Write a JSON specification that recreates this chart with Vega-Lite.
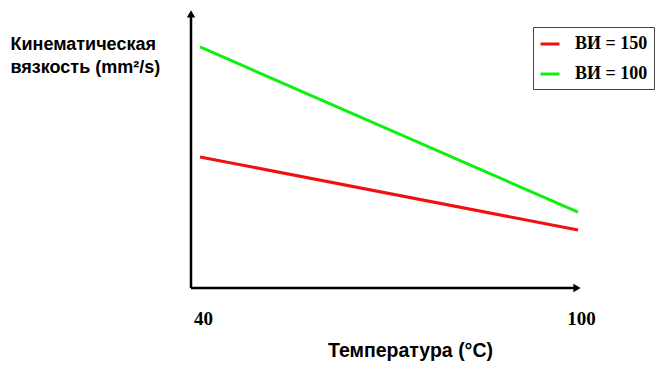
{
  "$schema": "https://vega.github.io/schema/vega-lite/v6.json",
  "width": 392,
  "height": 280,
  "autosize": {"type": "none"},
  "padding": {"left": 191, "top": 8, "right": 77, "bottom": 83},
  "background": "white",
  "config": {
    "view": {"stroke": null},
    "axis": {"grid": false, "domain": false, "ticks": false}
  },
  "datasets": {
    "lines": [
      {"T": 40, "v": 46.8, "series": "ВИ = 150"},
      {"T": 100, "v": 20.7, "series": "ВИ = 150"},
      {"T": 40, "v": 86.1, "series": "ВИ = 100"},
      {"T": 100, "v": 27.1, "series": "ВИ = 100"}
    ]
  },
  "layer": [
    {
      "data": {"values": [{"x0": 38.57, "y0": 0, "y1": 97}]},
      "mark": {"type": "rule", "color": "black", "strokeWidth": 2.5},
      "encoding": {
        "x": {"field": "x0", "type": "quantitative", "scale": {"domain": [38.57, 100.79], "nice": false, "zero": false}},
        "y": {"field": "y0", "type": "quantitative", "scale": {"domain": [0, 100], "nice": false}},
        "y2": {"field": "y1"}
      }
    },
    {
      "data": {"values": [{"x0": 38.57, "x1": 99.5, "y0": 0}]},
      "mark": {"type": "rule", "color": "black", "strokeWidth": 2.5},
      "encoding": {
        "x": {"field": "x0", "type": "quantitative"},
        "x2": {"field": "x1"},
        "y": {"field": "y0", "type": "quantitative"}
      }
    },
    {
      "data": {"values": [{"x0": 38.57, "y0": 97.9}]},
      "mark": {"type": "point", "shape": "triangle-up", "filled": true, "color": "black", "size": 70, "opacity": 1},
      "encoding": {
        "x": {"field": "x0", "type": "quantitative"},
        "y": {"field": "y0", "type": "quantitative"}
      }
    },
    {
      "data": {"values": [{"x0": 99.84, "y0": 0}]},
      "mark": {"type": "point", "shape": "triangle-right", "filled": true, "color": "black", "size": 70, "opacity": 1},
      "encoding": {
        "x": {"field": "x0", "type": "quantitative"},
        "y": {"field": "y0", "type": "quantitative"}
      }
    },
    {
      "data": {"name": "lines"},
      "mark": {"type": "line", "strokeWidth": 3},
      "encoding": {
        "x": {
          "field": "T", "type": "quantitative",
          "axis": {
            "values": [40, 100],
            "labelFont": "Liberation Serif", "labelFontWeight": "bold", "labelFontSize": 19, "labelColor": "black",
            "labelPadding": 21, "labelOffset": 3,
            "title": "Температура (°C)",
            "titleFont": "Liberation Sans", "titleFontWeight": "bold", "titleFontSize": 19.5, "titleColor": "black",
            "titleX": 219, "titleY": 68, "titleAlign": "center", "titleBaseline": "alphabetic"
          }
        },
        "y": {
          "field": "v", "type": "quantitative",
          "axis": {
            "labels": false,
            "title": ["Кинематическая", "вязкость (mm²/s)"],
            "titleFont": "Liberation Sans", "titleFontWeight": "bold", "titleFontSize": 18, "titleColor": "black",
            "titleAngle": 0, "titleAlign": "left", "titleBaseline": "alphabetic",
            "titleX": -181, "titleY": 41, "titleLineHeight": 23
          }
        },
        "color": {
          "field": "series", "type": "nominal",
          "scale": {"domain": ["ВИ = 150", "ВИ = 100"], "range": ["#f01010", "#10f010"]},
          "legend": {
            "title": null,
            "orient": "none", "legendX": 342, "legendY": 19,
            "strokeColor": "#444", "fillColor": "white", "padding": 6,
            "symbolType": "stroke", "symbolStrokeWidth": 3, "symbolSize": 361,
            "labelFont": "Liberation Serif", "labelFontWeight": "bold", "labelFontSize": 18, "labelColor": "black",
            "labelOffset": 14, "rowPadding": 10
          }
        }
      }
    }
  ]
}
